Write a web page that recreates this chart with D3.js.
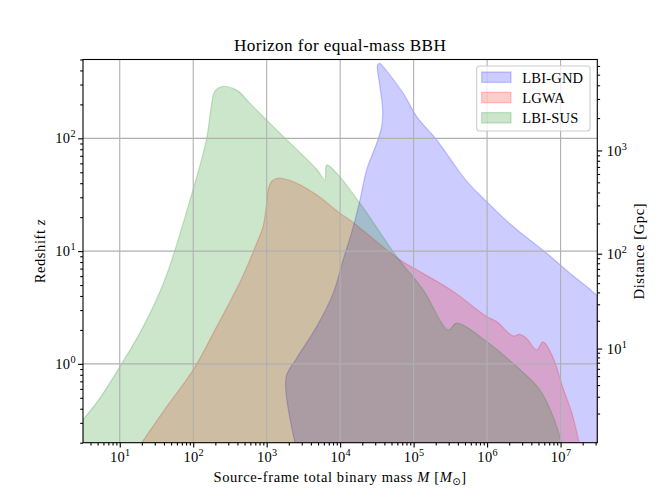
<!DOCTYPE html>
<html>
<head>
<meta charset="utf-8">
<script src="https://cdn.jsdelivr.net/npm/d3@7"></script>
<style>
  body { margin: 0; background: #fff; }
  svg { font-family: "Liberation Serif", "DejaVu Serif", serif; }
</style>
</head>
<body>
<div id="chart"></div>
<script>
// horizon curves: source-frame total mass [Msun] vs redshift
const gndMass = [2430, 1830, 2560, 4790, 8050, 11000, 15100, 18600, 22900, 31400, 36700, 37900, 34800, 32400, 34800, 36700, 72300, 110000, 206000, 510000, 985000, 2.26e6, 6.46e6, 1.34e7, 2.26e7, 3.16e7];
const gndZ = [0.2, 0.75, 1.12, 2.14, 4.24, 8.36, 16.5, 28.4, 52.5, 90.5, 127, 179, 287, 448, 461, 448, 251, 156, 96.8, 42.8, 27.5, 16.5, 9.58, 6.37, 4.85, 4.01];

const lgwaMass = [19.9, 43.6, 100, 209, 454, 731, 891, 993, 1060, 1180, 1440, 2300, 4790, 9930, 13600, 65000, 122000, 346000, 985000, 1.35e6, 2.26e6, 2.79e6, 3.44e6, 4.71e6, 5.79e6, 7.93e6, 1.08e7, 1.45e7, 1.79e7];
const lgwaZ = [0.2, 0.418, 0.885, 2.14, 5.67, 11.75, 16.5, 25.7, 36.3, 41.9, 44.3, 41.3, 31.5, 21.7, 18.9, 8.36, 6.58, 4.38, 2.63, 2.37, 1.77, 1.83, 1.69, 1.33, 1.57, 1.13, 0.612, 0.353, 0.2];

const susMass = [3.16, 5.4, 10.6, 20.9, 40.9, 99.3, 151, 176, 196, 244, 386, 593, 988, 1680, 4790, 6210, 6550, 8960, 18600, 58700, 135000, 296000, 385000, 985000, 2.52e6, 5.22e6, 7.93e6, 1.03e7];
const susZ = [0.32, 0.5, 1.0, 2.14, 5.55, 34.9, 96.8, 191, 259, 287, 269, 204, 146, 104, 53.2, 42.8, 58.1, 49.1, 26.6, 8.94, 4.53, 2.0, 2.30, 1.58, 0.946, 0.588, 0.341, 0.2];

const detectors = ["LBI-GND", "LGWA", "LBI-SUS"];
const colors = ["#0000ff", "#ff0000", "#008000"];

// tick exponents (labels are 10^k)
const xTickExp = [1, 2, 3, 4, 5, 6, 7];
const yTickExp = [0, 1, 2];
const distTickExp = [1, 2, 3];

const series = [
  { name: detectors[0], mass: gndMass, z: gndZ },
  { name: detectors[1], mass: lgwaMass, z: lgwaZ },
  { name: detectors[2], mass: susMass, z: susZ }
];

const margin = { top: 59.5, right: 66.7, bottom: 55.3, left: 83 };
const width = 664 - margin.left - margin.right;
const height = 498 - margin.top - margin.bottom;

const x = d3.scaleLog()
  .domain([Math.pow(10, 0.5), Math.pow(10, 7.5)])
  .range([0, width]);

const y = d3.scaleLog()
  .domain([0.2, 500])
  .range([height, 0]);

const svg = d3.select("#chart")
  .append("svg")
  .attr("width", 664)
  .attr("height", 498)
  .append("g")
  .attr("transform", `translate(${margin.left},${margin.top})`);

svg.append("clipPath")
  .attr("id", "plot-clip")
  .append("rect")
  .attr("width", width)
  .attr("height", height);

// filled horizons, drawn in legend order
const area = d3.area()
  .x(d => x(d[0]))
  .y0(y(0.05))
  .y1(d => y(d[1]))
  .curve(d3.curveCatmullRom.alpha(0.5));

const fills = svg.append("g").attr("clip-path", "url(#plot-clip)");
series.forEach((s, i) => {
  fills.append("path")
    .datum(s.mass.map((m, j) => [m, s.z[j]]))
    .attr("d", area)
    .attr("fill", colors[i])
    .attr("fill-opacity", 0.2)
    .attr("stroke", colors[i])
    .attr("stroke-opacity", 0.2)
    .attr("stroke-width", 1.3);
});

// grid on top of the fills, like matplotlib
const grid = svg.append("g")
  .attr("stroke", "#b0b0b0")
  .attr("stroke-width", 1.1);
xTickExp.forEach(k => {
  grid.append("line")
    .attr("x1", x(Math.pow(10, k))).attr("x2", x(Math.pow(10, k)))
    .attr("y1", 0).attr("y2", height);
});
yTickExp.forEach(k => {
  grid.append("line")
    .attr("x1", 0).attr("x2", width)
    .attr("y1", y(Math.pow(10, k))).attr("y2", y(Math.pow(10, k)));
});

function minorTicks(lo, hi) {
  const out = [];
  for (let e = Math.floor(Math.log10(lo)); e <= Math.ceil(Math.log10(hi)); e++) {
    for (let m = 2; m <= 9; m++) {
      const v = m * Math.pow(10, e);
      if (v >= lo && v <= hi) out.push(v);
    }
  }
  return out;
}

function powLabel(sel) {
  sel.selectAll(".tick text").each(function (d) {
    const t = d3.select(this);
    const k = Math.round(Math.log10(d));
    t.text(null);
    t.append("tspan").text("10");
    t.append("tspan")
      .attr("dy", -6)
      .style("font-size", "10.2px")
      .text(k);
  });
}

function styleAxis(g) {
  g.select(".domain").remove();
  g.selectAll(".tick line").attr("stroke", "#000").attr("stroke-width", 1.1);
  g.selectAll(".tick text")
    .attr("fill", "#000")
    .style("font-family", "Liberation Serif")
    .style("font-size", "14.5px")
    .style("letter-spacing", "0.3px");
}

// bottom axis
svg.append("g")
  .attr("transform", `translate(0,${height})`)
  .call(d3.axisBottom(x).tickValues(minorTicks(...x.domain())).tickSize(2.8).tickFormat(""))
  .call(styleAxis);
svg.append("g")
  .attr("transform", `translate(0,${height})`)
  .call(d3.axisBottom(x).tickValues(xTickExp.map(k => Math.pow(10, k))).tickSize(4.9).tickPadding(4.3))
  .call(styleAxis)
  .call(powLabel);

// left axis
svg.append("g")
  .call(d3.axisLeft(y).tickValues(minorTicks(...y.domain())).tickSize(2.8).tickFormat(""))
  .call(styleAxis);
svg.append("g")
  .call(d3.axisLeft(y).tickValues(yTickExp.map(k => Math.pow(10, k))).tickSize(4.9).tickPadding(2.3))
  .call(styleAxis)
  .call(powLabel);

// right axis: luminosity distance for a flat Planck18-like cosmology
const H0 = 67.66, Om = 0.30966, Or = 9.1e-5, OL = 1 - Om - Or;
const dH = 299792.458 / H0 / 1000;
const E = z => Math.sqrt(Om * Math.pow(1 + z, 3) + Or * Math.pow(1 + z, 4) + OL);
function comoving(z) {
  const n = 1500, a = Math.log1p(z);
  let s = 0;
  for (let i = 0; i <= n; i++) {
    const zz = Math.expm1(a * i / n);
    s += (i === 0 || i === n ? 0.5 : 1) * (1 + zz) / E(zz);
  }
  return dH * s * a / n;
}
const zGrid = d3.range(0, 301).map(i => 0.2 * Math.pow(2500, i / 300));
const dGrid = zGrid.map(z => (1 + z) * comoving(z));
const yDist = d3.scaleLog().domain(dGrid).range(zGrid.map(z => y(z)));

svg.append("g")
  .attr("transform", `translate(${width},0)`)
  .call(d3.axisRight(yDist).tickValues(minorTicks(dGrid[0], dGrid[dGrid.length - 1])).tickSize(2.8).tickFormat(""))
  .call(styleAxis);
svg.append("g")
  .attr("transform", `translate(${width},0)`)
  .call(d3.axisRight(yDist).tickValues(distTickExp.map(k => Math.pow(10, k))).tickSize(4.9).tickPadding(4.5))
  .call(styleAxis)
  .call(powLabel);

// spines
svg.append("rect")
  .attr("width", width)
  .attr("height", height)
  .attr("fill", "none")
  .attr("stroke", "#000")
  .attr("stroke-width", 1.1);

// titles
svg.append("text")
  .attr("x", width / 2)
  .attr("y", -8.5)
  .attr("text-anchor", "middle")
  .style("font-size", "17.2px")
  .style("letter-spacing", "0.4px")
  .text("Horizon for equal-mass BBH");

const xl = svg.append("text")
  .attr("x", width / 2)
  .attr("y", height + 39.5)
  .attr("text-anchor", "middle")
  .style("font-size", "14.5px")
  .style("letter-spacing", "0.6px");
xl.append("tspan").text("Source-frame total binary mass ");
xl.append("tspan").style("font-style", "italic").text("M");
xl.append("tspan").text(" [");
xl.append("tspan").style("font-style", "italic").text("M");
xl.append("tspan").attr("dy", 3).style("font-size", "10px").style("font-family", "DejaVu Sans").text("\u2299");
xl.append("tspan").attr("dy", -3).text("]");

const yl = svg.append("text")
  .attr("transform", `translate(${45 - margin.left},${height / 2}) rotate(-90)`)
  .attr("text-anchor", "middle")
  .style("font-size", "14.5px")
  .style("letter-spacing", "0.6px");
yl.append("tspan").text("Redshift ");
yl.append("tspan").style("font-style", "italic").text("z");

svg.append("text")
  .attr("transform", `translate(${width + 47},${height / 2}) rotate(-90)`)
  .attr("text-anchor", "middle")
  .style("font-size", "14.5px")
  .style("letter-spacing", "0.6px")
  .text("Distance [Gpc]");

// legend
const legend = svg.append("g")
  .attr("transform", `translate(${width - 120.6},6.5)`);
legend.append("rect")
  .attr("width", 113.3)
  .attr("height", 65)
  .attr("rx", 3)
  .attr("fill", "#fff")
  .attr("fill-opacity", 0.8)
  .attr("stroke", "#cccccc")
  .attr("stroke-width", 1.1);
detectors.forEach((name, i) => {
  const row = legend.append("g").attr("transform", `translate(5,${6 + i * 20.3})`);
  row.append("rect")
    .attr("width", 29.3)
    .attr("height", 10.4)
    .attr("fill", colors[i])
    .attr("fill-opacity", 0.2)
    .attr("stroke", colors[i])
    .attr("stroke-opacity", 0.2)
    .attr("stroke-width", 1.3);
  row.append("text")
    .attr("x", 40.6)
    .attr("y", 10.8)
    .style("font-size", "14.5px")
    .style("letter-spacing", "0.2px")
    .text(name);
});
</script>
</body>
</html>
